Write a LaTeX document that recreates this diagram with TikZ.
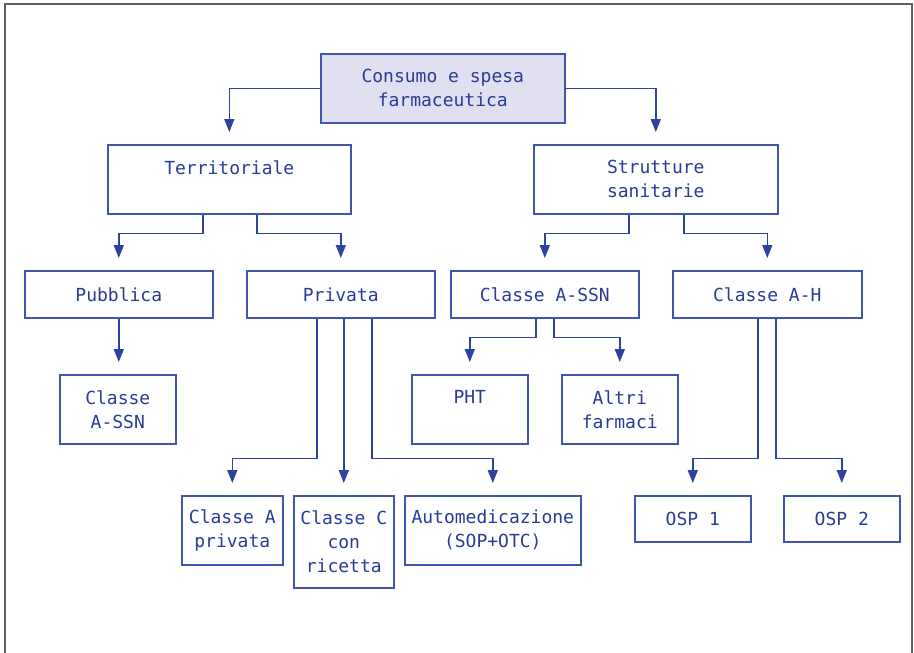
\documentclass[tikz,border=0pt]{standalone}
\usepackage{fontspec}
\setmonofont{DejaVu Sans Mono}
\usetikzlibrary{arrows.meta}
\definecolor{lineblue}{RGB}{46,66,160}
\definecolor{boxblue}{RGB}{64,86,170}
\definecolor{txtblue}{RGB}{42,60,150}
\definecolor{topfill}{RGB}{224,224,240}
\definecolor{framegray}{RGB}{96,96,96}
\tikzset{
  box/.style={draw=boxblue, line width=1.6pt, fill=white, text=txtblue, align=center,
    font=\ttfamily\fontsize{18}{24}\selectfont, inner sep=0pt, anchor=north west},
  conn/.style={draw=lineblue, line width=1.6pt, -{Triangle[length=13pt,width=10pt]}, shorten >=12pt},
  plain/.style={draw=lineblue, line width=1.6pt}
}
\newcommand{\bx}[6]{% name, x1, y1, x2, y2, text
  \node[box, minimum width={#4-#2}, minimum height={#5-#3}] (#1) at (#2,#3) {#6};}
\begin{document}
\begin{tikzpicture}[x=1pt,y=-1pt]
\useasboundingbox (0,0) rectangle (914,653);
\draw[framegray, line width=2pt] (5,660) -- (5,4) -- (911.5,4) -- (911.5,660);

\node[box, fill=topfill, minimum width=244, minimum height=69] (top) at (320,53) {Consumo e spesa\\farmaceutica};

\bx{terr}{107}{144}{350}{213}{Territoriale\\\mbox{}}
\bx{strut}{533}{144}{777}{213}{Strutture\\sanitarie}

\bx{pub}{24}{270}{212}{317}{Pubblica}
\bx{priv}{246}{270}{434}{317}{Privata}
\bx{assn}{450}{270}{638}{317}{Classe A-SSN}
\bx{ah}{672}{270}{861}{317}{Classe A-H}

\bx{cassn}{59}{374}{175}{443}{Classe\\A-SSN}
\bx{pht}{411}{374}{527}{443}{PHT\\\mbox{}}
\bx{altri}{561}{374}{677}{443}{Altri\\farmaci}

\bx{capriv}{181}{495}{282}{564}{Classe A\\privata}
\bx{ccric}{293}{495}{393}{587}{Classe C\\con\\ricetta}
\bx{auto}{404}{495}{580}{564}{Automedicazione\\(SOP+OTC)}
\bx{osp1}{634}{495}{750}{541}{OSP 1}
\bx{osp2}{783}{495}{899}{541}{OSP 2}

% top level
\draw[conn] (top.west) -| (terr.north);
\draw[conn] (top.east) -| (strut.north);

% Territoriale
\draw[conn] ([xshift=-26.5pt]terr.south) -- ++(0,19) -| (pub.north);
\draw[conn] ([xshift=27.5pt]terr.south) -- ++(0,19) -| (priv.north);

% Strutture sanitarie
\draw[conn] ([xshift=-27pt]strut.south) -- ++(0,19) -| (assn.north);
\draw[conn] ([xshift=28pt]strut.south) -- ++(0,19) -| (ah.north);

% Pubblica
\draw[conn] (pub.south) -- (pub.south |- cassn.north);

% Privata
\draw[conn] ([xshift=-24pt]priv.south) -- ++(0,140) -| (capriv.north);
\draw[conn] (ccric.north |- priv.south) -- (ccric.north);
\draw[conn] ([xshift=31pt]priv.south) -- ++(0,140) -| (auto.north);

% Classe A-SSN
\draw[conn] ([xshift=-9pt]assn.south) -- ++(0,19) -| (pht.north);
\draw[conn] ([xshift=9pt]assn.south) -- ++(0,19) -| (altri.north);

% Classe A-H
\draw[conn] ([xshift=-9.5pt]ah.south) -- ++(0,140) -| (osp1.north);
\draw[conn] ([xshift=8.5pt]ah.south) -- ++(0,140) -| (osp2.north);
\end{tikzpicture}
\end{document}
